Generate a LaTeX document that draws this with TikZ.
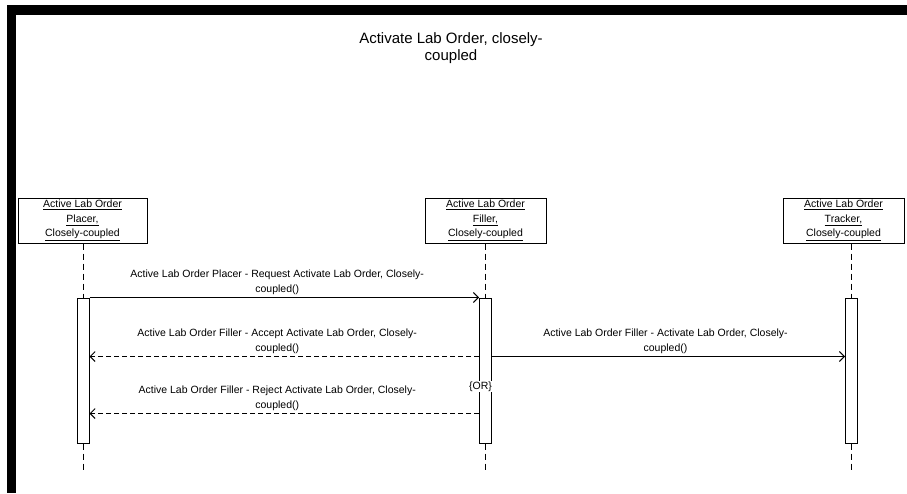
\documentclass[tikz,border=0pt]{standalone}
\usepackage{fontspec}
\setmainfont{Liberation Sans}
\usetikzlibrary{arrows.meta,positioning,calc}
\definecolor{Ink}{HTML}{000000}
\definecolor{Paper}{HTML}{FFFFFF}
\tikzset{
    objbox/.style={draw=Ink, fill=Paper, line width=1pt, minimum width=121pt,
        minimum height=45pt, inner sep=0pt, align=center,
        font=\fontsize{10.5}{14.5}\selectfont},
    actbar/.style={draw=Ink, fill=Paper, line width=1pt, minimum width=12pt,
        minimum height=145pt, inner sep=0pt},
    lifeline/.style={Ink, line width=0.9pt, dash pattern=on 6pt off 4pt},
    msglabel/.style={align=center, inner sep=1pt,
        font=\fontsize{10.5}{15.5}\selectfont},
    call/.style={Ink, line width=0.9pt, -{Straight Barb[length=5pt,width=10pt]}},
    reply/.style={call, dash pattern=on 5pt off 3pt},
}
% name, lifeline x, box x, box width, box text
\NewDocumentCommand{\Lifeline}{m m m m m}{
    \node[objbox, minimum width=#4] (#1) at (#3,220.5) {#5};
    \node[actbar] (#1-act) at (#2,370.5) {};
    \coordinate (#1-end) at (#2,472);
    \draw[lifeline] (#1-act.north |- #1.south) -- (#1-act.north);
    \draw[lifeline] (#1-act.south) -- (#1-end);
}

\begin{document}
\begin{tikzpicture}[x=1pt, y=-1pt]
\useasboundingbox (0,0) rectangle (907,493);
\fill[Ink] (7,5) rectangle (907,15);
\fill[Ink] (7,5) rectangle (16,493);

\node[align=center, font=\fontsize{15}{17}\selectfont] (title) at (451,48.5)
    {Activate Lab Order, closely-\\coupled};

\Lifeline{placer}{83}{82.5}{129pt}
    {\underline{Active Lab Order}\\\underline{Placer,}\\\underline{Closely-coupled}}
\Lifeline{filler}{485.5}{485.5}{121pt}
    {\underline{Active Lab Order}\\\underline{Filler,}\\\underline{Closely-coupled}}
\Lifeline{tracker}{851.5}{843.5}{121pt}
    {\underline{Active Lab Order}\\\underline{Tracker,}\\\underline{Closely-coupled}}

% messages
\draw[call] (placer-act.north east) -- (filler-act.north west)
    node[msglabel, midway, above=1pt, xshift=-7pt] (request)
    {Active Lab Order Placer - Request Activate Lab Order, Closely-\\coupled()};
\draw[reply] ([yshift=-59pt]filler-act.north west) -- ([yshift=-59pt]placer-act.north east)
    node[msglabel, midway, above=1pt, xshift=-7pt] (accept)
    {Active Lab Order Filler - Accept Activate Lab Order, Closely-\\coupled()};
\draw[call] ([yshift=-59pt]filler-act.north east) -- ([yshift=-59pt]tracker-act.north west)
    node[msglabel, midway, above=1pt, xshift=-3pt] (activate)
    {Active Lab Order Filler - Activate Lab Order, Closely-\\coupled()};
\draw[reply] ([yshift=-116pt]filler-act.north west) -- ([yshift=-116pt]placer-act.north east)
    node[msglabel, midway, above=1pt, xshift=-7pt] (reject)
    {Active Lab Order Filler - Reject Activate Lab Order, Closely-\\coupled()};

\node[fill=Paper, inner sep=0.5pt, font=\fontsize{10.5}{12}\selectfont] (or)
    at ([xshift=-5pt, yshift=-89pt]filler-act.north) {\{OR\}};
\end{tikzpicture}
\end{document}
